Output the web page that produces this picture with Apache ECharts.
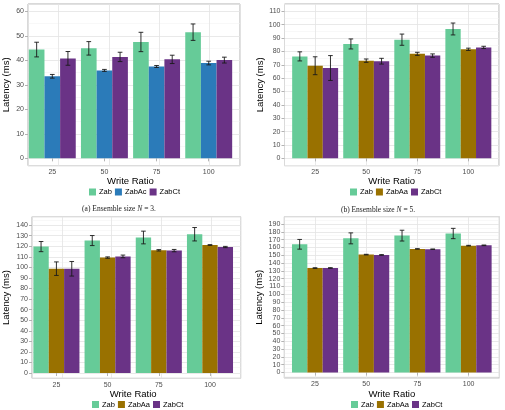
<!DOCTYPE html>
<html>
<head>
<meta charset="utf-8">
<script src="https://cdn.jsdelivr.net/npm/echarts@6/dist/echarts.min.js"></script>
<style>
  html, body { margin: 0; padding: 0; background: #fff; }
  #chart { width: 505px; height: 410px; }
</style>
</head>
<body>
<div id="chart"></div>
<script>
const writeRatios = ['25', '50', '75', '100']

// (a) N = 3
const aZab = [44.4, 44.9, 47.5, 51.5]
const aZabErr = [3.0, 2.75, 3.95, 3.35]
const aZabAc = [33.5, 35.9, 37.5, 38.9]
const aZabAcErr = [0.75, 0.4, 0.4, 0.75]
const aZabCt = [40.8, 41.4, 40.4, 40.1]
const aZabCtErr = [2.8, 1.9, 1.7, 1.2]

// (b) N = 5
const bZab = [76.3, 85.6, 88.8, 96.8]
const bZabErr = [3.4, 3.75, 4.2, 4.45]
const bZabAa = [69.3, 73.1, 78.2, 81.6]
const bZabAaErr = [6.7, 1.25, 1.15, 0.85]
const bZabCt = [67.6, 72.7, 76.9, 83.0]
const bZabCtErr = [9.3, 2.15, 1.25, 0.85]

// bottom left
const cZab = [119.7, 125.4, 128.3, 131.4]
const cZabErr = [4.8, 4.75, 6.0, 6.35]
const cZabAa = [98.8, 109.3, 116.2, 121.2]
const cZabAaErr = [6.4, 0.65, 0.65, 0.35]
const cZabCt = [98.7, 110.4, 115.9, 119.3]
const cZabCtErr = [6.9, 1.25, 1.1, 0.6]

// bottom right
const dZab = [164.0, 171.6, 175.1, 177.8]
const dZabErr = [6.2, 7.0, 6.9, 6.6]
const dZabAa = [133.6, 150.8, 158.1, 162.3]
const dZabAaErr = [0.4, 0.4, 0.3, 0.4]
const dZabCt = [133.7, 150.4, 157.7, 162.7]
const dZabCtErr = [0.4, 0.4, 0.3, 0.4]

const colors = {
  Zab: '#66cb98',
  ZabAc: '#2b7bb9',
  ZabAa: '#997100',
  ZabCt: '#6a3386'
}

const panels = [
  {
    box: [21, 4, 219, 161.7], range: [-3, 63], nameGap: 17, legend: [89, 188],
    groups: [['Zab', aZab, aZabErr], ['ZabAc', aZabAc, aZabAcErr], ['ZabCt', aZabCt, aZabCtErr]]
  },
  {
    box: [284.5, 4, 214.5, 161.7], range: [-5.5, 115.5], nameGap: 19, legend: [350, 188],
    groups: [['Zab', bZab, bZabErr], ['ZabAa', bZabAa, bZabAaErr], ['ZabCt', bZabCt, bZabCtErr]]
  },
  {
    box: [25.7, 216.7, 215, 161.6], range: [-5, 148], nameGap: 21, legend: [92, 400.5],
    groups: [['Zab', cZab, cZabErr], ['ZabAa', cZabAa, cZabAaErr], ['ZabCt', cZabCt, cZabCtErr]]
  },
  {
    box: [284.3, 216.7, 215, 161.3], range: [-7, 199.3], nameGap: 19, legend: [351, 400.5],
    groups: [['Zab', dZab, dZabErr], ['ZabAa', dZabAa, dZabAaErr], ['ZabCt', dZabCt, dZabCtErr]]
  }
]

const font = 'Liberation Sans'
const grid = [], xAxis = [], yAxis = [], series = [], legend = []

const errorBar = (offset) => (params, api) => {
  const band = api.size([1, 0])[0]
  const top = api.coord([api.value(0), api.value(2)])
  const bot = api.coord([api.value(0), api.value(1)])
  const cx = top[0] + offset * band
  const w = band * 0.045
  const style = { stroke: '#1a1a1a', lineWidth: 0.9 }
  return {
    type: 'group',
    children: [
      { type: 'line', shape: { x1: cx, y1: top[1], x2: cx, y2: bot[1] }, style },
      { type: 'line', shape: { x1: cx - w, y1: top[1], x2: cx + w, y2: top[1] }, style },
      { type: 'line', shape: { x1: cx - w, y1: bot[1], x2: cx + w, y2: bot[1] }, style }
    ]
  }
}

panels.forEach((p, k) => {
  const [left, top, width, height] = p.box
  const unit = width / 4.2
  // panel with border + grid lines
  grid.push({ left, top, width, height, show: true, borderColor: '#b3b3b3', borderWidth: 1, backgroundColor: 'transparent' })
  // bar area (discrete scale expansion of 0.6 vs 0.5)
  grid.push({ left: left + unit * 0.1, top, width: width - unit * 0.2, height })

  xAxis.push({
    gridIndex: 2 * k, type: 'value', min: 0.4, max: 4.6, minInterval: 1, maxInterval: 1,
    axisLine: { show: false }, axisTick: { show: false }, axisLabel: { show: false },
    splitLine: { show: true, lineStyle: { color: '#e3e3e3', width: 0.8 } }
  })
  xAxis.push({
    gridIndex: 2 * k + 1, type: 'category', data: writeRatios,
    name: 'Write Ratio', nameLocation: 'middle', nameGap: 7.5,
    nameTextStyle: { fontFamily: font, fontSize: 9.5, color: '#000' },
    axisLine: { show: false },
    axisTick: { show: true, alignWithLabel: true, length: 3, lineStyle: { color: '#b3b3b3' } },
    axisLabel: { fontFamily: font, fontSize: 7, color: '#4d4d4d', margin: 3 },
    splitLine: { show: false }
  })
  yAxis.push({
    gridIndex: 2 * k, type: 'value', min: p.range[0], max: p.range[1], minInterval: 10, maxInterval: 10,
    name: 'Latency (ms)', nameLocation: 'middle', nameGap: p.nameGap,
    nameTextStyle: { fontFamily: font, fontSize: 9.5, color: '#000' },
    axisLine: { show: false },
    axisTick: { show: true, length: 3, lineStyle: { color: '#b3b3b3' } },
    axisLabel: { fontFamily: font, fontSize: 7, color: '#4d4d4d', margin: 4, showMinLabel: false, showMaxLabel: false },
    splitLine: { show: true, lineStyle: { color: '#e3e3e3', width: 0.8 } },
    minorTick: { show: false, splitNumber: 2 },
    minorSplitLine: { show: true, lineStyle: { color: '#f0f0f0', width: 0.5 } }
  })
  yAxis.push({
    gridIndex: 2 * k + 1, type: 'value', min: p.range[0], max: p.range[1], show: false
  })

  p.groups.forEach(([name, vals, errs], i) => {
    series.push({
      name, type: 'bar', xAxisIndex: 2 * k + 1, yAxisIndex: 2 * k + 1,
      data: vals, barGap: '0%', barCategoryGap: '10%',
      itemStyle: { color: colors[name] }
    })
    series.push({
      name, type: 'custom', xAxisIndex: 2 * k + 1, yAxisIndex: 2 * k + 1,
      renderItem: errorBar((i - 1) * 0.3),
      encode: { x: 0, y: [1, 2] },
      data: vals.map((v, j) => [j, v - errs[j], v + errs[j]]),
      z: 5, silent: true
    })
  })

  legend.push({
    left: p.legend[0], top: p.legend[1], orient: 'horizontal', padding: 0,
    data: p.groups.map(g => ({ name: g[0], icon: 'rect' })),
    itemWidth: 7, itemHeight: 7, itemGap: 3, selectedMode: false,
    textStyle: { fontFamily: font, fontSize: 7.5, color: '#000', padding: [0, 0, 0, -2] }
  })
})

const captionStyle = (text, x, y) => ({
  type: 'text', x, y,
  style: {
    text,
    fontFamily: 'Liberation Serif', fontSize: 7.5, fill: '#222',
    align: 'center', verticalAlign: 'middle',
    rich: { i: { fontFamily: 'Liberation Serif', fontSize: 7.5, fontStyle: 'italic', fill: '#222' } }
  }
})

const chart = echarts.init(document.getElementById('chart'))
chart.setOption({
  animation: false,
  backgroundColor: '#fff',
  grid, xAxis, yAxis, series, legend,
  graphic: [
    captionStyle('(a) Ensemble size {i|N} = 3.', 119, 209),
    captionStyle('(b) Ensemble size {i|N} = 5.', 378, 210)
  ]
})
</script>
</body>
</html>
